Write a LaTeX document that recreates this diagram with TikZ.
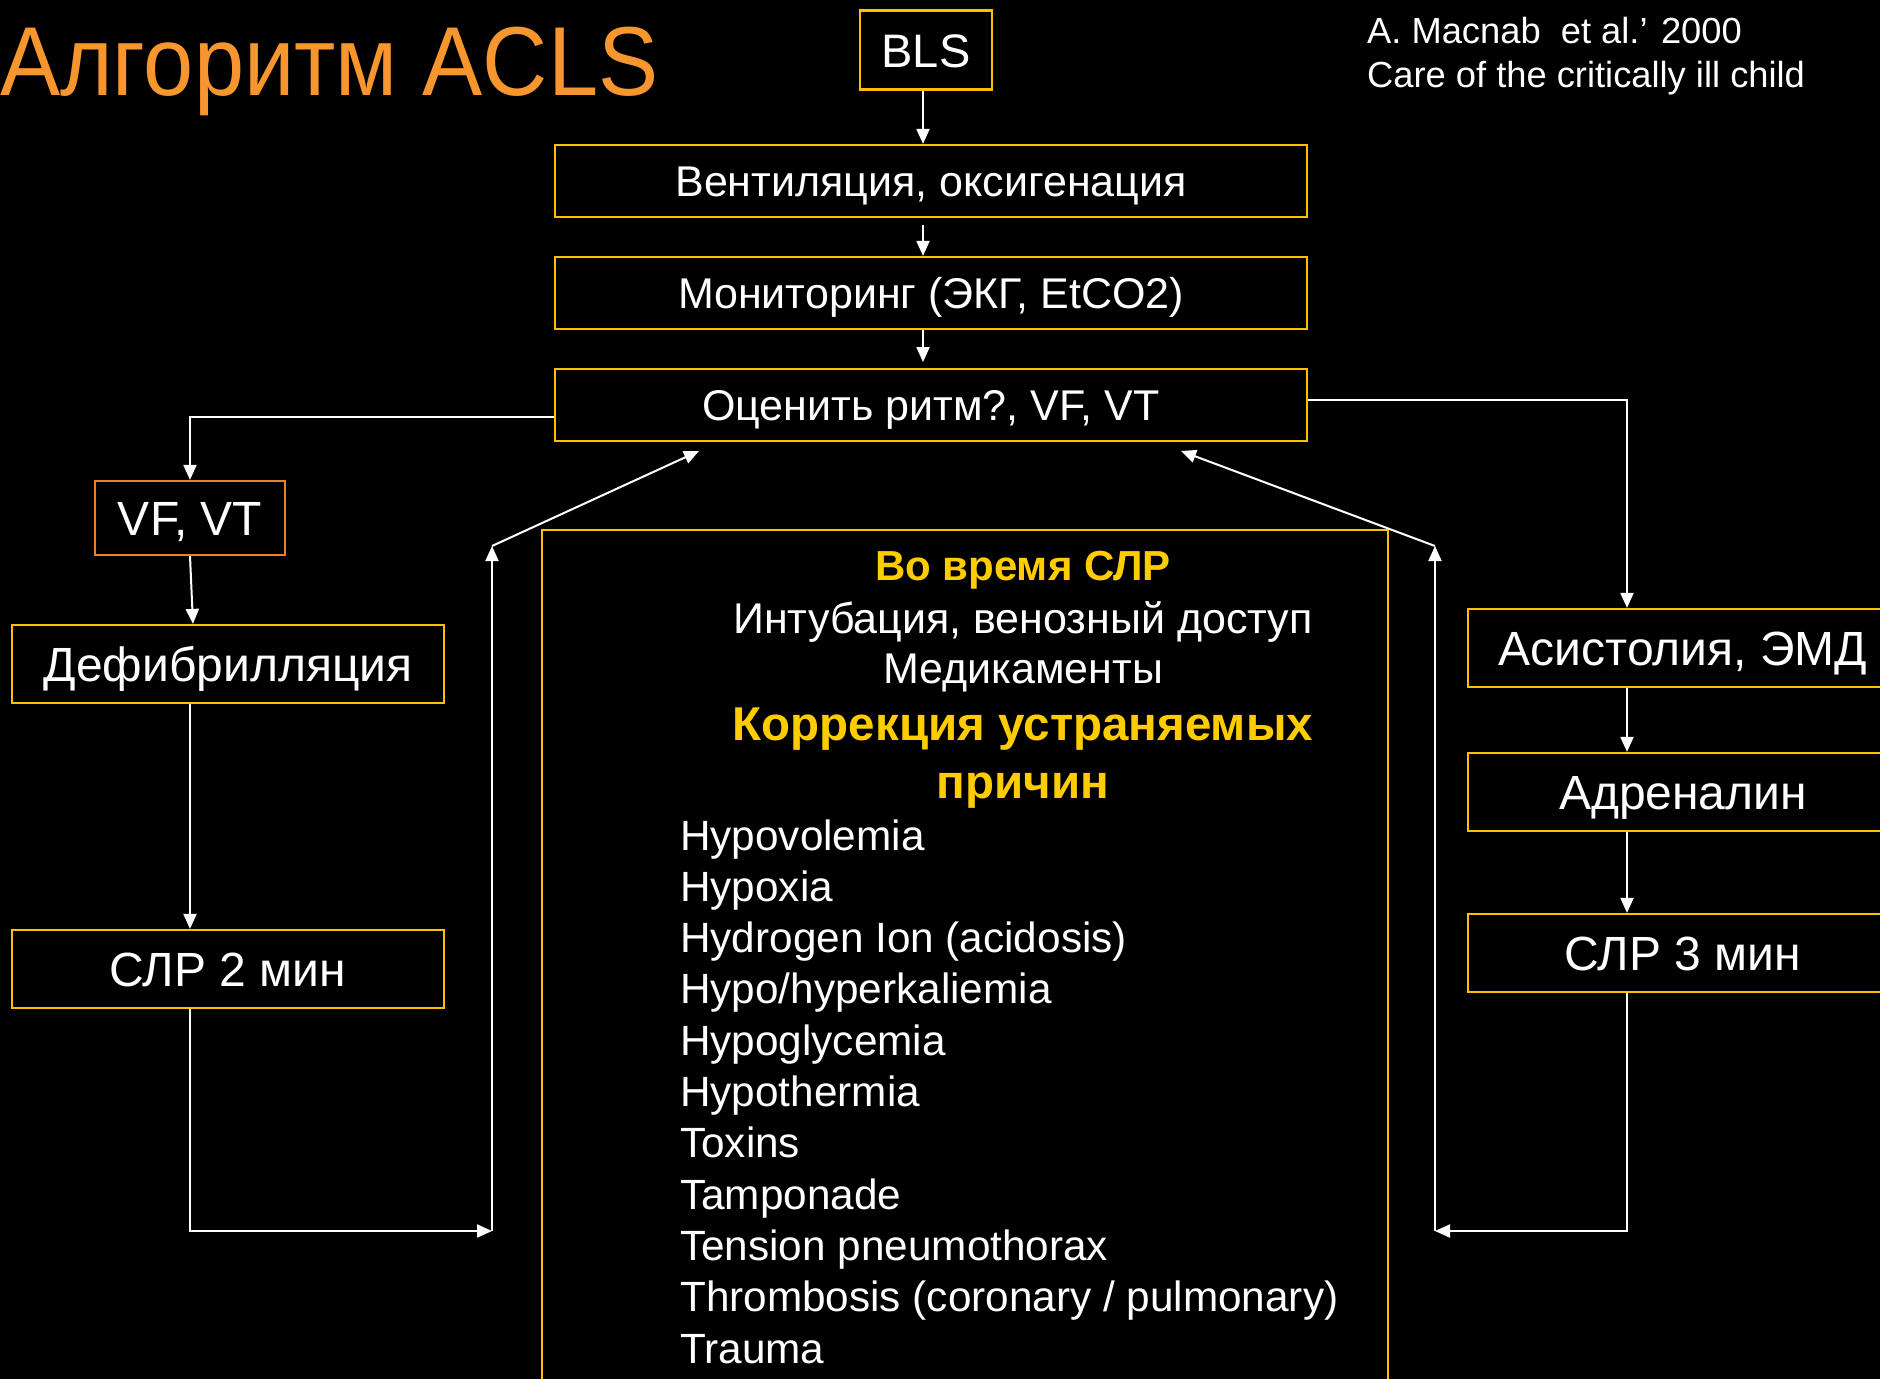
\documentclass[tikz,border=0pt]{standalone}
\usepackage{graphicx}
\usepackage{fontspec}
\setmainfont{Liberation Sans}
\usetikzlibrary{arrows.meta,calc}
\definecolor{gold}{HTML}{FFC000}
\definecolor{hdyellow}{HTML}{FFCC00}
\definecolor{acorange}{HTML}{F7962E}
\definecolor{vforange}{HTML}{E8822A}

\begin{document}
\begin{tikzpicture}[x=1pt,y=-1pt,>={Triangle[length=15pt,width=13pt]}]
    \tikzstyle{bx}=[draw=gold, line width=2.2pt, text=white, inner sep=0pt, text height=31pt, text depth=0pt, minimum width=752pt, minimum height=72pt, font=\fontsize{43}{50}\selectfont]
    \tikzstyle{sbx}=[bx, text height=34.5pt, minimum width=432pt, minimum height=78pt, font=\fontsize{48}{56}\selectfont]
    \tikzstyle{tx}=[text=white, inner sep=0pt, font=\fontsize{42.3}{50}\selectfont]
    \tikzstyle{hd}=[tx, anchor=base, text=hdyellow]
    \tikzstyle{ar}=[draw=white, line width=2pt, ->]
    \useasboundingbox (0,0) rectangle (1880,1379);
    \fill[black] (0,0) rectangle (1880,1379);
    \coordinate (ax) at (923,0);
    \coordinate (rx) at (1627,0);
    \coordinate (ldiff) at (0,51.3);
    % header
    \node[tx, anchor=base west, text=acorange, font=\fontsize{98}{110}\selectfont] (Title) at (0,95) {\scalebox{0.92}[1]{Алгоритм ACLS}};
    \node[tx, anchor=base west, font=\fontsize{36.3}{44}\selectfont] (Ref1) at (1367,43) {A. Macnab\ \ et al.’ 2000};
    \node[tx, anchor=base west, font=\fontsize{36.3}{44}\selectfont] (Ref2) at (1367,87) {Care of the critically ill child};
    % main column
    \node[bx, text height=34pt, minimum width=132pt, minimum height=79pt, font=\fontsize{47}{55}\selectfont] (Bls) at (926,50) {BLS};
    \node[bx] (Vent) at (931,181) {Вентиляция, оксигенация};
    \node[bx] (Mon) at (931,293) {Мониторинг (ЭКГ, EtCO2)};
    \node[bx] (Rhythm) at (931,405) {Оценить ритм?, VF, VT};
    % left column
    \node[sbx, draw=vforange, minimum width=190pt, minimum height=74pt] (Vf) at (190,518) {VF, VT};
    \node[sbx] (Defib) at (228,664) {Дефибрилляция};
    \node[sbx] (Cpr2) at (228,969) {СЛР 2 мин};
    % right column
    \node[sbx, minimum width=430pt] (Asys) at (1683,648) {Асистолия, ЭМД};
    \node[sbx, minimum width=430pt] (Adr) at (1683,792) {Адреналин};
    \node[sbx, minimum width=430pt] (Cpr3) at (1683,953) {СЛР 3 мин};
    % during CPR
    \node[draw=gold, line width=1.8pt, anchor=north west, inner sep=0pt, minimum width=846pt, minimum height=900pt] (During) at (541,529) {};
    \node[hd, font=\bfseries\fontsize{42}{50}\selectfont] (H1) at (1023,580) {Во время СЛР};
    \node[tx, anchor=base, font=\fontsize{43}{50}\selectfont] (H2) at (1023,633) {Интубация, венозный доступ};
    \node[tx, anchor=base, font=\fontsize{43}{50}\selectfont] (H3) at (1023,683) {Медикаменты};
    \node[hd, font=\bfseries\fontsize{47.5}{54}\selectfont] (H4) at (1023,740) {Коррекция устраняемых};
    \node[hd, font=\bfseries\fontsize{47.5}{54}\selectfont] (H5) at (1023,798) {причин};
    \node[tx, anchor=base west] (L0) at (680,850) {Hypovolemia};
    \node[tx, anchor=base west] (L1) at ($(L0.base west)+(ldiff)$) {Hypoxia};
    \node[tx, anchor=base west] (L2) at ($(L1.base west)+(ldiff)$) {Hydrogen Ion (acidosis)};
    \node[tx, anchor=base west] (L3) at ($(L2.base west)+(ldiff)$) {Hypo/hyperkaliemia};
    \node[tx, anchor=base west] (L4) at ($(L3.base west)+(ldiff)$) {Hypoglycemia};
    \node[tx, anchor=base west] (L5) at ($(L4.base west)+(ldiff)$) {Hypothermia};
    \node[tx, anchor=base west] (L6) at ($(L5.base west)+(ldiff)$) {Toxins};
    \node[tx, anchor=base west] (L7) at ($(L6.base west)+(ldiff)$) {Tamponade};
    \node[tx, anchor=base west] (L8) at ($(L7.base west)+(ldiff)$) {Tension pneumothorax};
    \node[tx, anchor=base west] (L9) at ($(L8.base west)+(ldiff)$) {Thrombosis (coronary / pulmonary)};
    \node[tx, anchor=base west] (L10) at ($(L9.base west)+(ldiff)$) {Trauma};
    % return points
    \coordinate (lb) at (492,1231);
    \coordinate (lt) at (492,546);
    \coordinate (lr) at (699,451);
    \coordinate (rb) at (1435,1231);
    \coordinate (rt) at (1435,546);
    \coordinate (rr) at (1181,451);
    % arrows
    \draw[ar] (Bls.south -| ax) -- (Vent.north -| ax);
    \draw[ar] ($(Vent.south -| ax)+(0,7)$) -- (Mon.north -| ax);
    \draw[ar] (Mon.south -| ax) -- ($(Mon.south -| ax)+(0,32)$);
    \draw[ar] ($(Rhythm.west)+(0,12)$) -| (Vf.north);
    \draw[ar] (Vf.south) -- ($(Vf.south |- Defib.north)+(3,0)$);
    \draw[ar] (Defib.south -| Vf.north) -- (Cpr2.north -| Vf.north);
    \draw[ar] (Cpr2.south -| Vf.north) |- (lb);
    \draw[ar] (lb) -- (lt);
    \draw[ar] (lt) -- (lr);
    \draw[ar] ($(Rhythm.east)+(0,-5)$) -| (Asys.north -| rx);
    \draw[ar] (Asys.south -| rx) -- (Adr.north -| rx);
    \draw[ar] (Adr.south -| rx) -- (Cpr3.north -| rx);
    \draw[ar] (Cpr3.south -| rx) |- (rb);
    \draw[ar] (rb) -- (rt);
    \draw[ar] (rt) -- (rr);
\end{tikzpicture}
\end{document}
